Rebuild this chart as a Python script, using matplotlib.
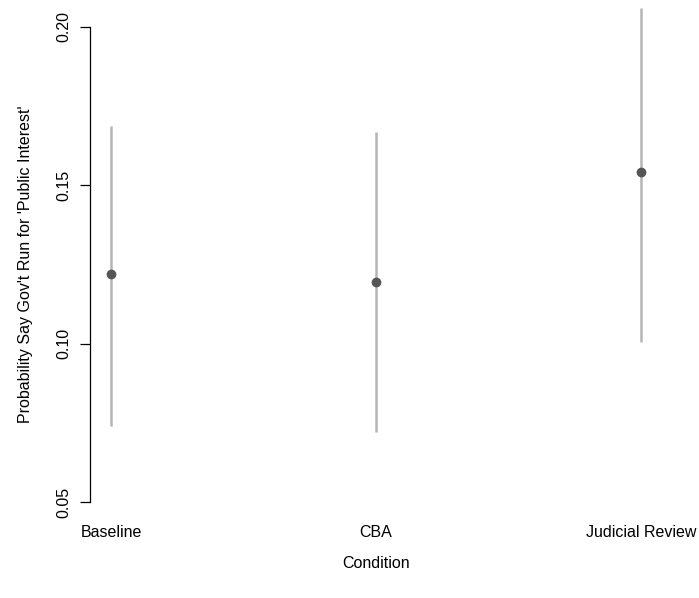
import matplotlib
matplotlib.use("Agg")
import matplotlib.pyplot as plt

plt.rcParams['font.family'] = ['Liberation Sans', 'DejaVu Sans']

conditions = ["Baseline", "CBA", "Judicial Review"]
prob = [0.122, 0.1195, 0.1543]
lower = [0.0740, 0.0721, 0.1005]
upper = [0.1688, 0.1669, 0.2060]

fig = plt.figure(figsize=(6.99, 5.98), dpi=100)
ax = fig.add_axes([90/699, 1-521/598, 572/699, 513/598])

x = [1, 2, 3]
ax.vlines(x, lower, upper, color="#b5b5b5", linewidth=1.8)
ax.plot(x, prob, "o", color="#555555", markersize=6)

ax.set_xlim(0.92, 3.08)
ax.set_ylim(0.05 - 0.006, 0.20 + 0.006)

for s in ["top", "right", "bottom"]:
    ax.spines[s].set_visible(False)
ax.spines["left"].set_bounds(0.05, 0.20)
ax.spines["left"].set_linewidth(0.9)

fs = 11.5
ax.set_yticks([0.05, 0.10, 0.15, 0.20])
ax.set_yticklabels(["0.05", "0.10", "0.15", "0.20"], rotation=90, va="center")
ax.tick_params(axis="y", length=7, width=0.9, labelsize=fs, pad=6.5)
ax.set_xticks(x)
ax.set_xticklabels(conditions)
ax.tick_params(axis="x", length=0, labelsize=fs, pad=3)

ax.set_xlabel("Condition", fontsize=fs, labelpad=11.5)
ax.set_ylabel("Probability Say Gov't Run for 'Public Interest'", fontsize=fs, labelpad=17)

fig.savefig("out.png", dpi=100)
